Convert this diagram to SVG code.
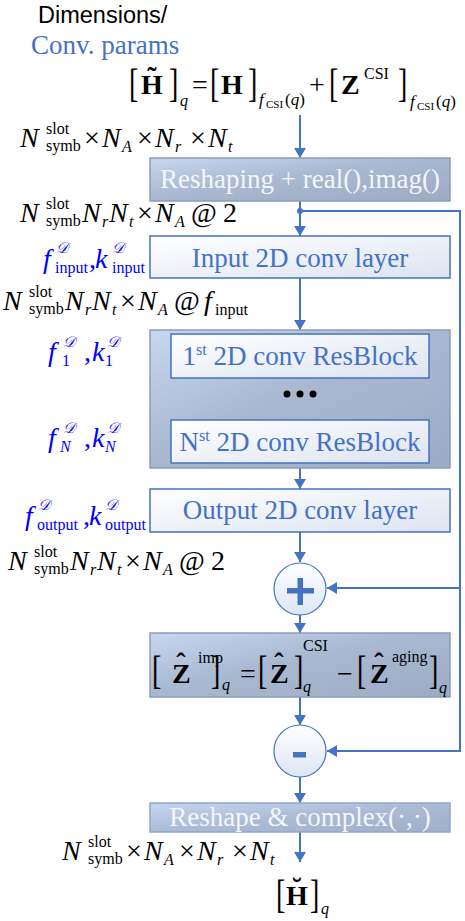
<svg xmlns="http://www.w3.org/2000/svg" width="465" height="921" viewBox="0 0 465 921">
<defs>
<style>
.t{font-family:"Liberation Serif","Times New Roman",serif;fill:#000}
.mi{font-style:italic}
.bf{font-weight:bold}
.m{font-size:28px}
.s{font-size:16px}
.ss{font-size:11px}
.blue{fill:#0000FF}
.lbl{font-family:"Liberation Serif","Times New Roman",serif;font-size:27px;text-anchor:middle}
.wt{fill:#F4F6FA}
.bt{fill:#4472C4}
.arr{stroke:#4472C4;stroke-width:2;fill:none;marker-end:url(#ah)}
.gbox{fill:url(#gGray);stroke:#8C9DB8;stroke-width:1.5}
.wbox{fill:url(#gWhite);stroke:#4472C4;stroke-width:1.5}
.circ{fill:url(#gCirc);stroke:#4472C4;stroke-width:1.2}
.cal{font-family:"DejaVu Serif","DejaVu Sans",serif;font-style:italic;font-size:15px;fill:#0000FF}
</style>
<marker id="ah" markerUnits="userSpaceOnUse" markerWidth="10" markerHeight="12" refX="10" refY="6" orient="auto">
<path d="M0,0 L10,6 L0,12 z" fill="#4472C4"/>
</marker>
<linearGradient id="gGray" x1="0" y1="0" x2="1" y2="1">
<stop offset="0" stop-color="#C6D7EF"/>
<stop offset="0.45" stop-color="#A9B9D1"/>
<stop offset="1" stop-color="#9CABC4"/>
</linearGradient>
<linearGradient id="gGray2" x1="0" y1="0" x2="1" y2="1">
<stop offset="0" stop-color="#C4D6F0"/>
<stop offset="0.5" stop-color="#AABBD6"/>
<stop offset="1" stop-color="#9FAFCA"/>
</linearGradient>
<linearGradient id="gWhite" x1="0" y1="0" x2="1" y2="1">
<stop offset="0" stop-color="#FFFFFF"/>
<stop offset="1" stop-color="#DCE3F1"/>
</linearGradient>
<linearGradient id="gCirc" x1="0" y1="0" x2="0" y2="1">
<stop offset="0" stop-color="#FFFFFF"/>
<stop offset="1" stop-color="#DCE6F5"/>
</linearGradient>
<g id="dimA">
<text class="t m mi" x="0" y="0">N</text>
<text class="t s" x="26" y="-13">slot</text>
<text class="t s" x="26" y="4">symb</text>
<text class="t m" x="64" y="0">×</text>
<text class="t m mi" x="82" y="0">N</text>
<text class="t s mi" x="102" y="5">A</text>
<text class="t m" x="117" y="0">×</text>
<text class="t m mi" x="135" y="0">N</text>
<text class="t s mi" x="155" y="5">r</text>
<text class="t m" x="170" y="0">×</text>
<text class="t m mi" x="188" y="0">N</text>
<text class="t s mi" x="208" y="5">t</text>
</g>
<g id="dimB0">
<text class="t m mi" x="0" y="0">N</text>
<text class="t s" x="26" y="-13">slot</text>
<text class="t s" x="26" y="4">symb</text>
<text class="t m mi" x="62" y="0">N</text>
<text class="t s mi" x="82" y="5">r</text>
<text class="t m mi" x="89" y="0">N</text>
<text class="t s mi" x="109" y="5">t</text>
<text class="t m" x="117" y="0">×</text>
<text class="t m mi" x="135" y="0">N</text>
<text class="t s mi" x="155" y="5">A</text>
<text class="t m" x="171" y="0">@</text>
</g>
</defs>

<g id="header">
<text x="38" y="23" style="font-family:'Liberation Sans',Arial,sans-serif;font-size:23.5px;fill:#000">Dimensions/</text>
<text x="31" y="54" style="font-family:'Liberation Serif','Times New Roman',serif;font-size:27px;fill:#4472C4">Conv. params</text>
</g>

<g id="eq-top">
<text class="t m" transform="translate(129,97) scale(1,1.4)">[</text>
<text class="t bf" style="font-size:28px" x="141" y="94">H</text>
<text class="t bf" style="font-size:28px" x="152" y="86" text-anchor="middle">˜</text>
<text class="t m" transform="translate(169,97) scale(1,1.4)">]</text>
<text class="t s mi" x="180" y="106">q</text>
<text class="t m" x="192" y="94">=</text>
<text class="t m" transform="translate(210,97) scale(1,1.4)">[</text>
<text class="t bf" style="font-size:28px" x="221" y="94">H</text>
<text class="t m" transform="translate(248,97) scale(1,1.4)">]</text>
<text class="t mi" style="font-size:17px" x="259" y="105">f</text>
<text class="t ss" x="266" y="108">CSI</text>
<text class="t" style="font-size:17px" x="285" y="105">(<tspan class="mi">q</tspan>)</text>
<text class="t m" x="309" y="94">+</text>
<text class="t m" transform="translate(329,97) scale(1,1.4)">[</text>
<text class="t bf" style="font-size:28px" x="341" y="94">Z</text>
<text class="t s" x="364" y="79">CSI</text>
<text class="t m" transform="translate(398,97) scale(1,1.4)">]</text>
<text class="t mi" style="font-size:17px" x="410" y="107">f</text>
<text class="t ss" x="417" y="110">CSI</text>
<text class="t" style="font-size:17px" x="436" y="107">(<tspan class="mi">q</tspan>)</text>
</g>

<g id="dims">
<use href="#dimA" x="20" y="147"/>
<g transform="translate(20,222)"><use href="#dimB0"/><text class="t m" x="203" y="0">2</text></g>
<g transform="translate(3,310)"><use href="#dimB0"/><text class="t m mi" x="201" y="0">f</text><text class="t s" x="212" y="5">input</text></g>
<g transform="translate(8,570)"><use href="#dimB0"/><text class="t m" x="203" y="0">2</text></g>
<use href="#dimA" x="62" y="860"/>
</g>

<g id="params">
<g transform="translate(43,268)">
<text class="t m mi blue" x="0" y="0">f</text><text class="cal" x="13" y="-15">𝒟</text><text class="t s blue" x="12" y="5">input</text>
<text class="t m blue" x="46" y="0">,</text>
<text class="t m mi blue" x="52" y="0">k</text><text class="cal" x="69" y="-15">𝒟</text><text class="t s blue" x="69" y="5">input</text>
</g>
<g transform="translate(48,361)">
<text class="t m mi blue" x="0" y="0">f</text><text class="cal" x="15" y="-14">𝒟</text><text class="t s blue" x="14" y="5">1</text>
<text class="t m blue" x="36" y="0">,</text>
<text class="t m mi blue" x="44" y="0">k</text><text class="cal" x="59" y="-14">𝒟</text><text class="t s blue" x="57" y="5">1</text>
</g>
<g transform="translate(48,447)">
<text class="t m mi blue" x="0" y="0">f</text><text class="cal" x="15" y="-14">𝒟</text><text class="t s mi blue" x="12" y="5">N</text>
<text class="t m blue" x="36" y="0">,</text>
<text class="t m mi blue" x="44" y="0">k</text><text class="cal" x="59" y="-14">𝒟</text><text class="t s mi blue" x="57" y="5">N</text>
</g>
<g transform="translate(25,525)">
<text class="t m mi blue" x="0" y="0">f</text><text class="cal" x="13" y="-15">𝒟</text><text class="t s blue" x="12" y="5">output</text>
<text class="t m blue" x="58" y="0">,</text>
<text class="t m mi blue" x="64" y="0">k</text><text class="cal" x="80" y="-15">𝒟</text><text class="t s blue" x="80" y="5">output</text>
</g>
</g>

<g id="connectors">
<path class="arr" d="M300,115 V158"/>
<path class="arr" d="M300,201 V236"/>
<path class="arr" d="M300,278 V330"/>
<path class="arr" d="M300,378 V420"/>
<path class="arr" d="M300,468 V489"/>
<path class="arr" d="M300,532 V562"/>
<path class="arr" d="M300,615 V633"/>
<path class="arr" d="M300,697 V725"/>
<path class="arr" d="M300,777 V803"/>
<path class="arr" d="M300,832 V862"/>
<path class="arr" d="M300,211 H460 V751 H327"/>
<path class="arr" d="M460,588 H327"/>
<circle cx="300" cy="211" r="3" fill="#4472C4"/>
</g>

<g id="reshaping">
<rect class="gbox" x="150" y="158" width="300" height="43"/>
<text class="lbl wt" x="300" y="188">Reshaping + real(),imag()</text>
</g>

<g id="input-conv">
<rect class="wbox" x="150" y="236" width="300" height="42"/>
<text class="lbl bt" x="300" y="267">Input 2D conv layer</text>
</g>

<g id="resblocks">
<rect class="gbox" x="150" y="330" width="300" height="138"/>
<g id="resblock-1">
<rect class="wbox" x="171" y="334" width="258" height="44"/>
<text class="lbl bt" x="300" y="365">1<tspan dy="-10" style="font-size:16px">st</tspan><tspan dy="10"> 2D conv ResBlock</tspan></text>
</g>
<g id="dots">
<circle cx="287" cy="394" r="3.5" fill="#000"/>
<circle cx="300" cy="394" r="3.5" fill="#000"/>
<circle cx="313" cy="394" r="3.5" fill="#000"/>
</g>
<g id="resblock-n">
<rect class="wbox" x="171" y="420" width="258" height="43"/>
<text class="lbl bt" x="300" y="451">N<tspan dy="-10" style="font-size:16px">st</tspan><tspan dy="10"> 2D conv ResBlock</tspan></text>
</g>
</g>

<g id="output-conv">
<rect class="wbox" x="150" y="489" width="300" height="43"/>
<text class="lbl bt" x="300" y="519">Output 2D conv layer</text>
</g>

<g id="plus">
<circle class="circ" cx="300" cy="589" r="26"/>
<rect x="287" y="588" width="27" height="5.5" fill="#4472C4"/>
<rect x="297.5" y="578" width="5.5" height="27" fill="#4472C4"/>
</g>

<g id="z-imp">
<rect class="gbox" x="150" y="633" width="300" height="64"/>
<text class="t m" transform="translate(152,684) scale(1,1.4)">[</text>
<text class="t bf" style="font-size:28px" x="172" y="683">Z</text>
<text class="t bf" style="font-size:28px" x="181" y="672" text-anchor="middle">ˆ</text>
<text class="t s" x="198" y="663">imp</text>
<text class="t m" transform="translate(211,684) scale(1,1.4)">]</text>
<text class="t s mi" x="222" y="690">q</text>
<text class="t m" x="240" y="683">=</text>
<text class="t m" transform="translate(258,684) scale(1,1.4)">[</text>
<text class="t bf" style="font-size:28px" x="270" y="683">Z</text>
<text class="t bf" style="font-size:28px" x="279" y="672" text-anchor="middle">ˆ</text>
<text class="t m" transform="translate(294,684) scale(1,1.4)">]</text>
<text class="t s" x="303" y="651">CSI</text>
<text class="t s mi" x="303" y="692">q</text>
<text class="t m" x="337" y="683">−</text>
<text class="t m" transform="translate(357,684) scale(1,1.4)">[</text>
<text class="t bf" style="font-size:28px" x="370" y="683">Z</text>
<text class="t bf" style="font-size:28px" x="379" y="672" text-anchor="middle">ˆ</text>
<text class="t s" x="392" y="662">aging</text>
<text class="t m" transform="translate(429,684) scale(1,1.4)">]</text>
<text class="t s mi" x="439" y="693">q</text>
</g>

<g id="minus">
<circle class="circ" cx="300" cy="751" r="26"/>
<rect x="293" y="752" width="13" height="5.5" fill="#4472C4"/>
</g>

<g id="reshape-complex">
<rect x="150" y="803" width="300" height="29" fill="url(#gGray2)" stroke="#8FA6CB" stroke-width="1.5"/>
<text class="lbl wt" x="300" y="826">Reshape &amp; complex(·,·)</text>
</g>

<g id="eq-bottom">
<text class="t m" transform="translate(276,908) scale(1,1.4)">[</text>
<text class="t bf" style="font-size:28px" x="286" y="905">H</text>
<text class="t bf" style="font-size:28px" x="297" y="897" text-anchor="middle">˘</text>
<text class="t m" transform="translate(310,908) scale(1,1.4)">]</text>
<text class="t s mi" x="321" y="914">q</text>
</g>
</svg>
